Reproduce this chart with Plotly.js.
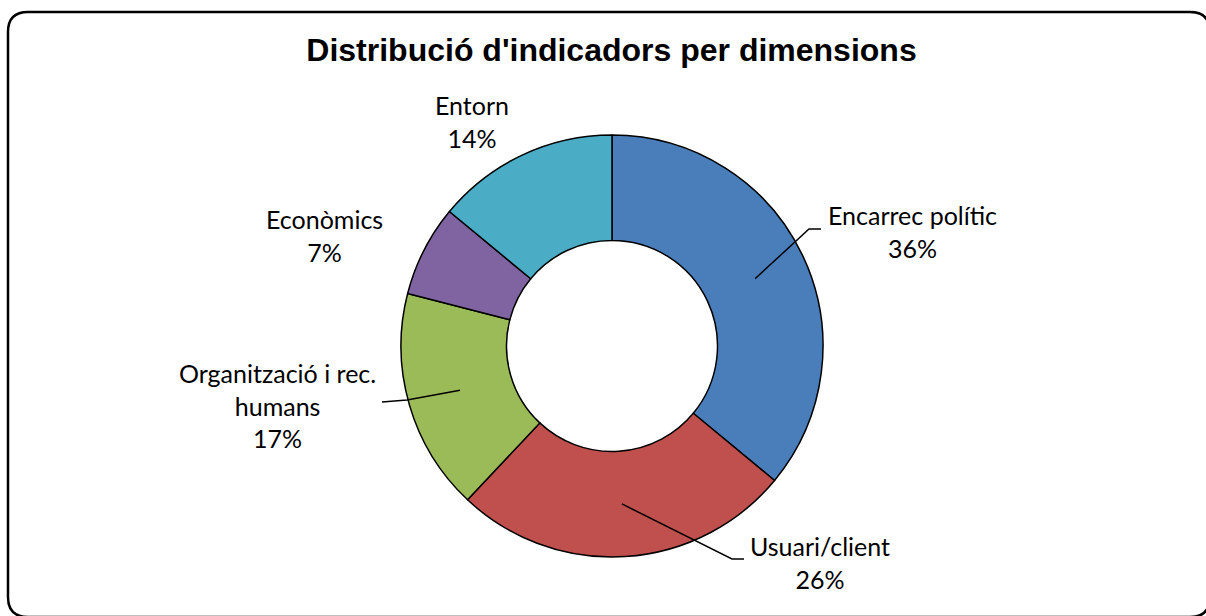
<!DOCTYPE html>
<html>
<head>
<meta charset="utf-8">
<script src="https://cdn.plot.ly/plotly-3.0.1.min.js"></script>
<style>html,body{margin:0;padding:0;background:#fff}#chart{width:1206px;height:616px}</style>
</head>
<body>
<div id="chart"></div>
<script>
// ---- data ----
const categories = ["Encarrec polític", "Usuari/client", "Organització i rec. humans", "Econòmics", "Entorn"];
const labelText = ["Encarrec polític", "Usuari/client", "Organització i rec.<br>humans", "Econòmics", "Entorn"];
const values = [36, 26, 17, 7, 14];
const sliceColors = ["#4A7EBB", "#C0504D", "#9BBB59", "#8064A2", "#4BACC6"];
const chartTitle = "Distribució d'indicadors per dimensions";

// ---- layout helpers (pixel -> paper) ----
const W = 1206, H = 616;
const X = px => px / W;
const Y = py => 1 - py / H;

// pie geometry
const cx = 612, cy = 346, R = 211, holeFrac = 0.5;
const dom = {x: [X(cx - R), X(cx + R)], y: [Y(cy + R), Y(cy - R)]};

// label placements (layout): text centre and optional leader-line elbow/end
const labelPos = [
  {x: 912, y: 231, elbow: [809, 229], end: [821, 229]},
  {x: 820, y: 562, elbow: [732, 559], end: [744, 559]},
  {x: 277, y: 405, elbow: [407, 400], end: [382, 402]},
  {x: 324, y: 235},
  {x: 472, y: 122}
];

const total = values.reduce((a, b) => a + b, 0);
const annotations = [];
const shapes = [];
let cum = 0;
values.forEach((v, i) => {
  const mid = (cum + v / 2) / total * 2 * Math.PI; // clockwise from 12 o'clock
  cum += v;
  const pct = Math.round(v / total * 100) + "%";
  const p = labelPos[i];
  annotations.push({
    xref: "paper", yref: "paper", x: X(p.x), y: Y(p.y),
    xanchor: "center", yanchor: "middle", showarrow: false,
    text: labelText[i] + "<br>" + pct, align: "center",
    font: {family: "Lato, 'Open Sans', sans-serif", size: 25, color: "#000"}
  });
  if (p.elbow) {
    const rm = R * (1 + holeFrac) / 2;
    const ix = cx + rm * Math.sin(mid), iy = cy - rm * Math.cos(mid);
    shapes.push({
      type: "path", xref: "paper", yref: "paper",
      path: `M${X(ix)},${Y(iy)} L${X(p.elbow[0])},${Y(p.elbow[1])} L${X(p.end[0])},${Y(p.end[1])}`,
      line: {color: "#000", width: 1.5}
    });
  }
});

// rounded chart border
const bx0 = 8, by0 = 12, bx1 = 1210, by1 = 617, r = 20;
shapes.push({
  type: "path", xref: "paper", yref: "paper",
  path: `M${X(bx0 + r)},${Y(by0)} L${X(bx1 - r)},${Y(by0)} Q${X(bx1)},${Y(by0)} ${X(bx1)},${Y(by0 + r)} ` +
        `L${X(bx1)},${Y(by1 - r)} Q${X(bx1)},${Y(by1)} ${X(bx1 - r)},${Y(by1)} ` +
        `L${X(bx0 + r)},${Y(by1)} Q${X(bx0)},${Y(by1)} ${X(bx0)},${Y(by1 - r)} ` +
        `L${X(bx0)},${Y(by0 + r)} Q${X(bx0)},${Y(by0)} ${X(bx0 + r)},${Y(by0)} Z`,
  line: {color: "#000", width: 2.5}
});

const trace = {
  type: "pie",
  labels: categories,
  values: values,
  hole: holeFrac,
  sort: false,
  direction: "clockwise",
  rotation: 0,
  textinfo: "none",
  hoverinfo: "label+percent",
  marker: {colors: sliceColors, line: {color: "#000", width: 1.5}},
  domain: dom,
  showlegend: false
};

const layout = {
  width: W, height: H,
  margin: {l: 0, r: 0, t: 0, b: 0},
  paper_bgcolor: "#fff",
  title: {
    text: "<b>" + chartTitle + "</b>",
    x: X(611.5), xanchor: "center", y: Y(50), yanchor: "middle",
    font: {family: "'Liberation Sans', Arial, sans-serif", size: 32, color: "#000"}
  },
  annotations: annotations,
  shapes: shapes
};

Plotly.newPlot("chart", [trace], layout, {displayModeBar: false, staticPlot: true});
</script>
</body>
</html>
